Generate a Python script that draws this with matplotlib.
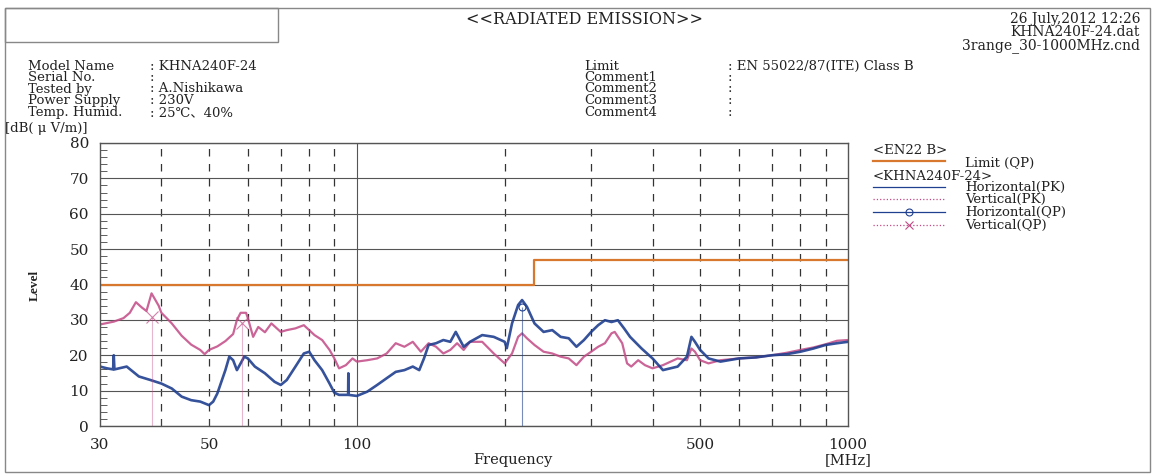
import matplotlib
matplotlib.use("Agg")
import matplotlib.pyplot as plt
from matplotlib.lines import Line2D
from matplotlib.patches import Rectangle
from matplotlib.ticker import FixedLocator, NullFormatter, MultipleLocator

# ---- data ----
h_pk_freq = [30, 31, 31.9, 32, 32.1, 34, 36, 38, 40, 42, 44, 46, 48, 50, 51, 52, 54, 55, 56, 57,
             58, 59, 60, 62, 65, 68, 70, 72, 75, 78, 80, 82, 85, 88, 90, 92, 95, 96, 96.1, 96.2,
             100, 105, 110, 115, 120, 125, 130, 134, 137, 140, 145, 150, 155, 159, 165, 170, 180,
             190, 200, 202, 207, 213, 217, 222, 230, 240, 250, 260, 270, 280, 290, 300, 310, 320,
             330, 340, 350, 360, 380, 400, 420, 450, 470, 480, 488, 500, 520, 550, 600, 650, 700,
             750, 800, 850, 900, 950, 1000]
h_pk_level = [16.8, 16.3, 16.0, 20.0, 16.0, 16.8, 14.0, 13.0, 12.0, 10.6, 8.3, 7.3, 6.9, 5.9, 6.9,
              9.2, 15.8, 19.6, 18.6, 15.8, 17.7, 19.6, 19.1, 16.8, 14.9, 12.5, 11.6, 13.0, 16.8,
              20.5, 21.0, 18.6, 15.8, 12.0, 9.4, 8.8, 8.8, 8.8, 14.9, 8.8, 8.5, 9.7, 11.6, 13.5,
              15.3, 15.8, 16.8, 15.8, 19.1, 22.9, 23.4, 24.3, 23.8, 26.6, 22.4, 23.8, 25.7, 25.2,
              23.8, 22.0, 29.0, 34.2, 35.6, 33.7, 29.0, 26.6, 27.1, 25.2, 24.8, 22.4, 24.3, 26.6,
              28.5, 29.9, 29.4, 29.9, 27.6, 25.2, 21.9, 19.1, 15.8, 16.8, 19.6, 25.2, 23.8, 21.5,
              19.1, 18.2, 19.1, 19.4, 20.0, 20.3, 21.0, 21.9, 22.9, 23.4, 23.8]

v_pk_freq = [30, 32, 33.5, 34.5, 35.5, 36.5, 37.3, 38.2, 39.5, 40, 41, 42, 44, 46, 48, 49, 50, 52,
             54, 56, 57, 58, 59.5, 60, 61.5, 63, 65, 67, 70, 72, 75, 78, 80, 82, 85, 88, 90, 92,
             95, 98, 100, 105, 110, 115, 120, 125, 130, 135, 140, 145, 150, 155, 160, 165, 170,
             180, 190, 200, 207, 213, 217, 222, 230, 240, 250, 260, 270, 280, 290, 300, 310, 320,
             330, 335, 347, 355, 362, 374, 386, 400, 420, 450, 470, 480, 488, 500, 520, 550, 600,
             650, 700, 750, 800, 850, 900, 950, 1000]
v_pk_level = [28.7, 29.5, 30.5, 32.0, 35.0, 33.5, 32.5, 37.5, 34.0, 32.0, 30.5, 29.0, 25.5, 23.0,
              21.5, 20.3, 21.5, 22.5, 24.0, 26.0, 30.0, 32.0, 32.0, 30.5, 25.2, 28.0, 26.5, 29.0,
              26.6, 27.1, 27.6, 28.5, 27.1, 25.7, 24.3, 21.5, 19.1, 16.3, 17.2, 19.1, 18.2, 18.6,
              19.1, 20.5, 23.4, 22.4, 23.8, 21.0, 23.4, 22.4, 20.5, 21.5, 23.4, 21.5, 23.8, 23.8,
              20.5, 17.7, 20.5, 25.2, 26.2, 24.8, 22.9, 21.0, 20.5, 19.6, 19.1, 17.2, 19.6, 21.0,
              22.4, 23.4, 26.2, 26.6, 23.4, 17.7, 16.8, 18.6, 17.2, 16.3, 17.2, 19.1, 18.6, 21.9,
              21.0, 18.6, 17.7, 18.6, 19.1, 19.4, 20.0, 20.7, 21.5, 22.2, 23.1, 24.1, 24.3]

h_qp_freq = [216.7]
h_qp_level = [33.7]
v_qp_freq = [38.2, 58.3]
v_qp_level = [30.9, 29.0]

limit_freq = [30, 230, 230, 1000]
limit_level = [40, 40, 47, 47]

x_labels = [30, 50, 100, 500, 1000]
left_labels = ["Model Name", "Serial No.", "Tested by", "Power Supply", "Temp. Humid."]
left_values = [": KHNA240F-24", ":", ": A.Nishikawa", ": 230V", ": 25℃、40%"]
right_labels = ["Limit", "Comment1", "Comment2", "Comment3", "Comment4"]
right_values = [": EN 55022/87(ITE) Class B", ":", ":", ":", ":"]
file_info = ["26 July,2012 12:26", "KHNA240F-24.dat", "3range_30-1000MHz.cnd"]

blue = "#1f3f8f"
pink = "#c24a86"
orange = "#d8782f"
grid_c = "#555555"
serif = ["DejaVu Serif", "Noto Sans CJK JP"]

W, H = 1155, 476
fig = plt.figure(figsize=(W / 100, H / 100), dpi=100)


def fx(px):
    return px / W


def fy(py):
    return 1 - py / H


def ftext(px, py, s, size=9.5, **kw):
    kw.setdefault("va", "center")
    fig.text(fx(px), fy(py), s, fontsize=size, family=serif, color="#222222", **kw)


# page frame and header box
fig.add_artist(Rectangle((fx(5), fy(472)), fx(1145), (472 - 8) / H, transform=fig.transFigure,
                         fill=False, ec="#888888", lw=1))
fig.add_artist(Rectangle((fx(5), fy(42)), fx(273), 34 / H, transform=fig.transFigure,
                         fill=False, ec="#888888", lw=1))

ftext(585, 20, "<<RADIATED EMISSION>>", size=11.5, ha="center")
for y, s in zip([19, 32.5, 46], file_info):
    ftext(1140, y, s, size=10, ha="right")

rows_y = [66, 77.5, 89, 100.5, 112.5]
for y, lab, val in zip(rows_y, left_labels, left_values):
    ftext(28, y, lab)
    ftext(150, y, val)
for y, lab, val in zip(rows_y, right_labels, right_values):
    ftext(584, y, lab)
    ftext(728, y, val)
ftext(5, 129, "[dB( μ V/m)]")

# ---- plot ----
ax = fig.add_axes([fx(100), fy(426), fx(848) - fx(100), (426 - 143) / H])
ax.set_xscale("log")
ax.set_xlim(30, 1000)
ax.set_ylim(0, 80)

ax.xaxis.set_major_locator(FixedLocator([100]))
ax.xaxis.set_minor_locator(FixedLocator([40, 50, 60, 70, 80, 90, 200, 300, 400, 500, 600, 700, 800, 900]))
ax.xaxis.set_major_formatter(NullFormatter())
ax.xaxis.set_minor_formatter(NullFormatter())
ax.yaxis.set_major_locator(MultipleLocator(10))
ax.yaxis.set_minor_locator(MultipleLocator(2))
ax.grid(True, which="major", axis="both", color=grid_c, lw=0.8)
ax.grid(True, which="minor", axis="x", color="#333333", lw=0.9, ls=(0, (6, 6)))
ax.tick_params(which="both", direction="in", top=False, right=False, colors="#444444")
ax.tick_params(which="major", length=0, labelsize=11, labelcolor="#222222", pad=8)
ax.tick_params(which="minor", length=5)
for sp in ax.spines.values():
    sp.set_color("#555555")
    sp.set_linewidth(1)
for lab in ax.get_yticklabels():
    lab.set_family(serif)

for f in x_labels:
    ax.text(f, -3.5, str(f), ha="center", va="top", fontsize=11, family=serif,
            color="#222222", clip_on=False)

ax.plot(limit_freq, limit_level, color=orange, lw=1.6)
ax.plot(v_pk_freq, v_pk_level, color=pink, lw=1.6, alpha=0.85)
ax.plot(h_pk_freq, h_pk_level, color=blue, lw=1.9, alpha=0.9)
ax.vlines(v_qp_freq, 0, v_qp_level, color=pink, lw=0.8, alpha=0.4)
ax.plot(v_qp_freq, v_qp_level, ls="none", marker="x", ms=9, mew=0.8, color=pink, alpha=0.7)
ax.vlines(h_qp_freq, 0, h_qp_level, color=blue, lw=0.8, alpha=0.6)
ax.plot(h_qp_freq, h_qp_level, ls="none", marker="o", ms=5, mfc="none", mew=0.8, color=blue)

ftext(473, 460, "Frequency", size=10.5)
ftext(848, 460, "[MHz]", size=10.5, ha="center")
fig.text(fx(35), fy(285), "Level", rotation=90, fontsize=9.5, family="Liberation Serif",
         weight="bold", ha="center", va="center", color="#222222")

# ---- legend drawn as on the printout ----
ftext(873, 151, "<EN22 B>")
fig.add_artist(Line2D([fx(873), fx(945)], [fy(161), fy(161)], color=orange, lw=1.6))
ftext(965, 163, "Limit (QP)")
ftext(873, 176, "<KHNA240F-24>")
fig.add_artist(Line2D([fx(873), fx(945)], [fy(187), fy(187)], color=blue, lw=0.9))
ftext(965, 187, "Horizontal(PK)")
fig.add_artist(Line2D([fx(873), fx(945)], [fy(199), fy(199)], color=pink, lw=0.9, ls=":"))
ftext(965, 199, "Vertical(PK)")
fig.add_artist(Line2D([fx(873), fx(945)], [fy(212), fy(212)], color=blue, lw=0.9))
fig.add_artist(Line2D([fx(909)], [fy(212)], color=blue, marker="o", ms=5, mfc="none", mew=0.8))
ftext(965, 212, "Horizontal(QP)")
fig.add_artist(Line2D([fx(873), fx(945)], [fy(225), fy(225)], color=pink, lw=0.9, ls=":"))
fig.add_artist(Line2D([fx(909)], [fy(225)], color=pink, marker="x", ms=6, mew=0.8))
ftext(965, 225, "Vertical(QP)")

fig.savefig("out.png", dpi=100)
